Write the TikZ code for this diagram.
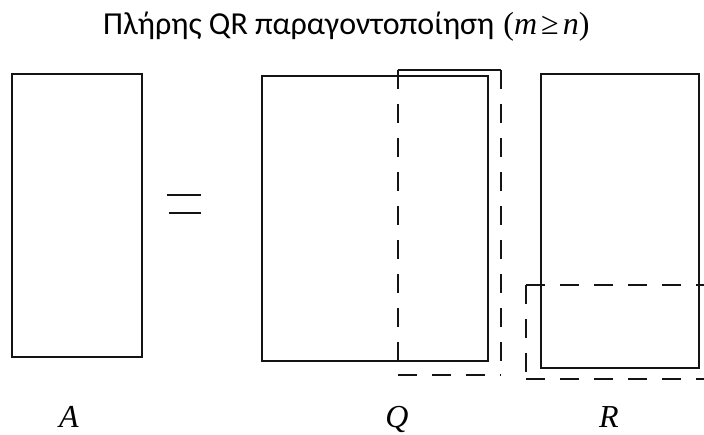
\documentclass[tikz,border=0pt]{standalone}
\usepackage{fontspec}
\setmainfont{Carlito}
\newfontfamily\timesrm{Liberation Serif}
\usepackage{tikz}
\usetikzlibrary{positioning}
\definecolor{inkline}{RGB}{20,20,20}

\tikzset{
  matbox/.style={draw=inkline, line width=1.5pt},
  blockedge/.style={draw=inkline, line width=1.5pt, dash pattern=on 19pt off 15pt},
  matname/.style={anchor=base, inner sep=0pt, font=\fontsize{32}{36}\selectfont\timesrm\itshape},
}

\begin{document}
\begin{tikzpicture}[x=1pt, y=-1pt]
  \useasboundingbox (0,0) rectangle (704,435);
  % title
  \node[anchor=base west, inner sep=0pt] (title) at (103,35) {\fontsize{32}{36}\selectfont Πλήρης QR παραγοντοποίηση\hspace{9pt}{\timesrm(\textit{m}\hspace{4pt}≥\hspace{4pt}\textit{n})}};
  % A (m x n)
  \draw[matbox] (12,74) rectangle (142,357);
  \node[matname] (labA) at (69,427) {A};
  % equals sign
  \draw[matbox] (167,195) -- (201,195);
  \draw[matbox] (169,213) -- (201,213);
  % Q (m x m), dashed block = extra columns
  \draw[matbox] (262,76) rectangle (488,361);
  \draw[matbox] (398,70) -- (501,70);
  \draw[blockedge] (398,70) -- (398,375);
  \draw[blockedge] (398,375) -- (501,375);
  \draw[blockedge] (501,70) -- (501,375);
  \node[matname] (labQ) at (397,427) {Q};
  % R (m x n), dashed block = zero rows
  \draw[matbox] (541,74) rectangle (699,368);
  \draw[blockedge] (526,285) -- (712,285);
  \draw[blockedge] (526,285) -- (526,379);
  \draw[blockedge] (526,379) -- (712,379);
  \node[matname] (labR) at (609,427) {R};
\end{tikzpicture}
\end{document}
